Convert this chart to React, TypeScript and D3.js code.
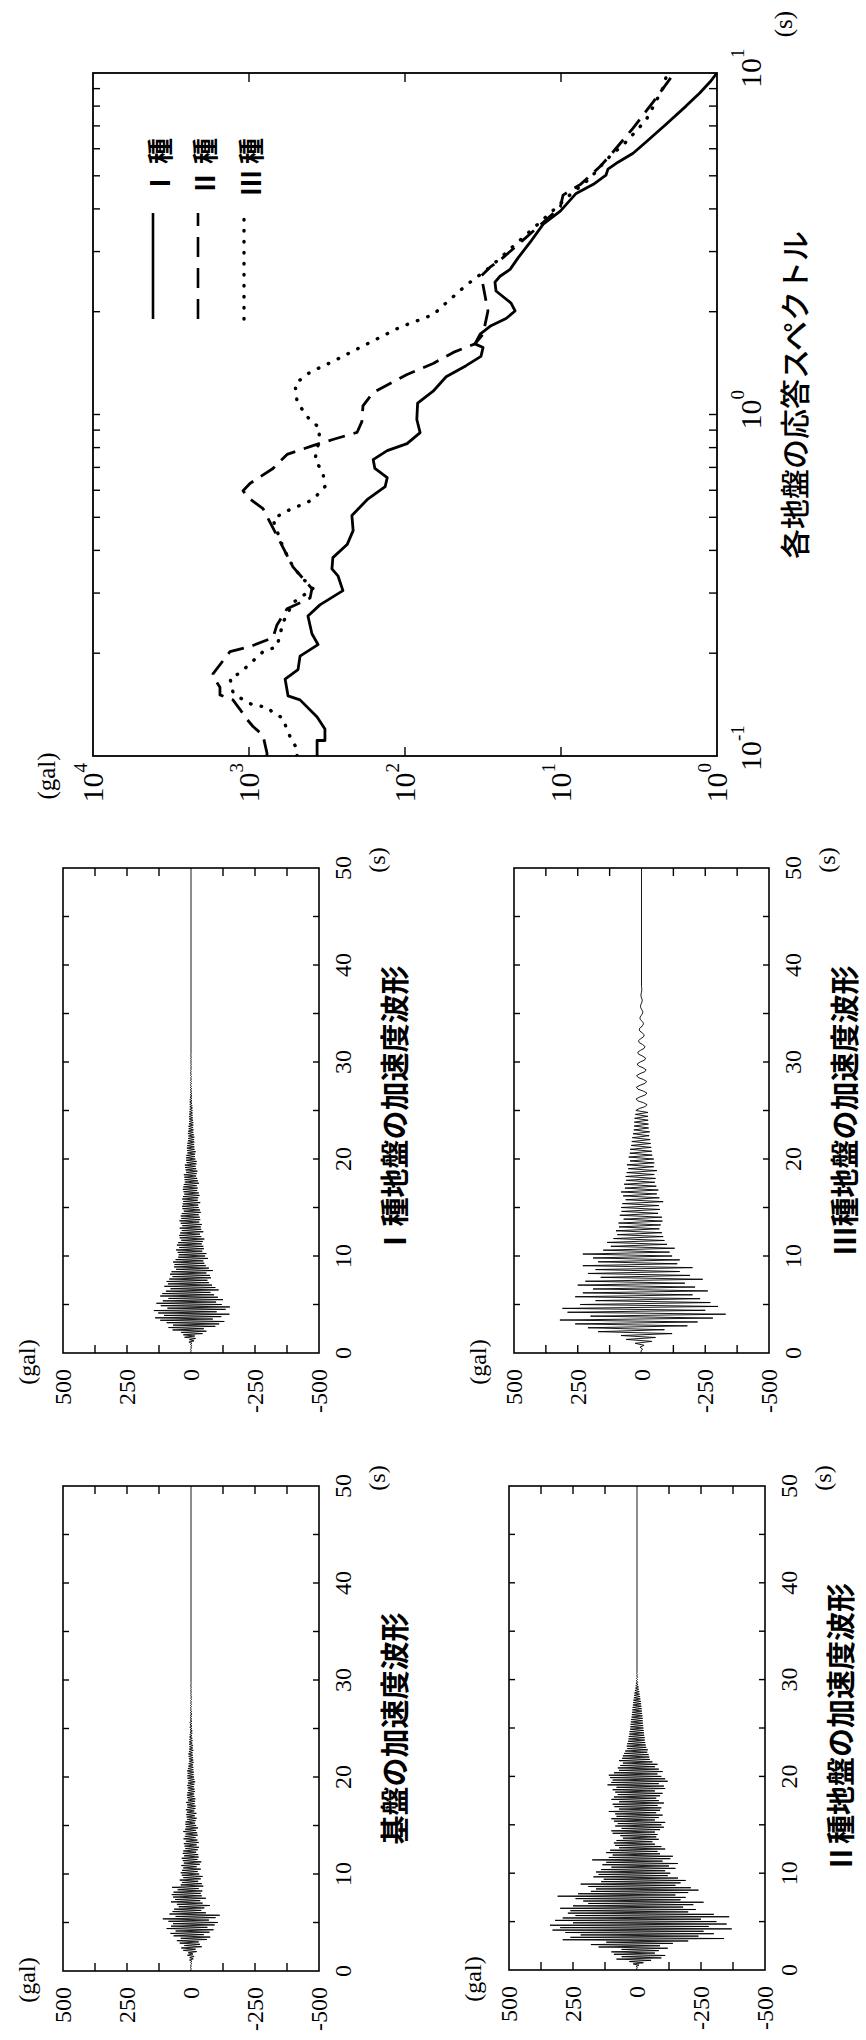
import React from 'react';
import * as d3 from 'd3';

// ---------- Response spectrum (period s, acceleration gal) ----------
const periodsI = [0.1, 0.111, 0.111, 0.120, 0.130, 0.146, 0.150, 0.168, 0.179, 0.196, 0.212, 0.228, 0.257, 0.277, 0.305, 0.337, 0.353, 0.381, 0.416, 0.457, 0.506, 0.563, 0.615, 0.653, 0.695, 0.738, 0.784, 0.822, 0.885, 0.967, 1.08, 1.17, 1.29, 1.39, 1.48, 1.57, 1.61, 1.72, 1.82, 1.91, 2.01, 2.12, 2.30, 2.44, 2.54, 2.66, 2.87, 3.19, 3.61, 3.94, 4.44, 4.72, 5.02, 5.23, 5.48, 5.82, 6.28, 7.08, 8.00, 8.74, 9.41, 10];
const accelI = [366, 366, 326, 326, 366, 471, 562, 587, 485, 471, 361, 395, 419, 351, 250, 269, 294, 290, 235, 215, 219, 175, 134, 130, 156, 160, 130, 97, 80, 84, 83, 66, 54.5, 40.6, 32.6, 31.6, 35.6, 33.0, 28.1, 22.5, 19.7, 20.9, 26.1, 26.5, 24.6, 21.2, 18.9, 15.8, 13.0, 10.1, 8.0, 6.2, 5.15, 5.0, 4.31, 3.45, 2.85, 2.12, 1.58, 1.29, 1.11, 1.0];

const periodsII = [0.1, 0.102, 0.108, 0.115, 0.122, 0.128, 0.137, 0.146, 0.151, 0.159, 0.171, 0.174, 0.190, 0.202, 0.209, 0.222, 0.242, 0.270, 0.290, 0.309, 0.358, 0.442, 0.530, 0.571, 0.598, 0.628, 0.695, 0.764, 0.811, 0.845, 0.886, 0.953, 1.06, 1.16, 1.31, 1.41, 1.52, 1.61, 1.72, 2.01, 2.39, 2.54, 2.70, 2.83, 3.24, 3.76, 4.05, 4.39, 4.72, 5.33, 5.90, 6.90, 8.22, 9.80];
const accelII = [767, 767, 789, 813, 942, 1030, 1143, 1268, 1535, 1535, 1702, 1702, 1469, 1324, 986, 702, 662, 570, 406, 395, 523, 662, 813, 1014, 1092, 986, 702, 570, 389, 290, 203, 189, 186, 160, 97, 66, 49, 35.6, 31.6, 29.4, 31.6, 32.6, 28.5, 24.6, 17.5, 12.1, 10.1, 9.7, 7.5, 5.6, 4.6, 3.45, 2.57, 1.94];

const periodsIII = [0.1, 0.105, 0.111, 0.119, 0.129, 0.134, 0.139, 0.141, 0.146, 0.154, 0.169, 0.175, 0.202, 0.209, 0.246, 0.281, 0.309, 0.337, 0.371, 0.416, 0.457, 0.492, 0.516, 0.537, 0.563, 0.615, 0.676, 0.738, 0.811, 0.910, 0.986, 1.09, 1.23, 1.33, 1.43, 1.61, 1.80, 1.96, 2.12, 2.39, 2.70, 3.05, 3.44, 3.88, 4.39, 4.92, 5.56, 6.28, 7.28, 9.04, 9.73];
const accelIII = [492, 492, 530, 570, 605, 702, 767, 942, 1092, 1268, 1324, 1143, 813, 662, 605, 523, 389, 471, 546, 614, 662, 702, 605, 492, 389, 326, 336, 378, 361, 351, 425, 492, 507, 406, 290, 175, 108, 66, 54.6, 40.6, 28.5, 21.2, 15.8, 11.8, 8.8, 6.5, 5.15, 3.83, 2.85, 2.22, 2.12];

const legendLabels = ['Ⅰ 種', 'Ⅱ 種', 'Ⅲ 種'];
const galTicks = [10000, 1000, 100, 10, 1];
const galExp = ['4', '3', '2', '1', '0'];
const periodTicks = [0.1, 1, 10];
const periodExp = ['-1', '0', '1'];

// ---------- Acceleration waveforms (gal), successive peaks ----------
const dtBase = 0.125;
const baseWave = [
  0, 1, -1, 2, -1, 2, -3, 2,
  -4, 6, -9, 5, -12, 14, -8, 11,
  -22, 30, -18, 38, -42, 26, -35, 44,
  -30, 55, -62, 40, -75, 68, -50, 80,
  -72, 60, -88, 95, -64, 78, -92, 70,
  -105, 88, -70, 110, -96, 60, -112, 84,
  -58, 72, -40, 66, -52, 48, -74, 55,
  -45, 78, -36, 62, -58, 70, -42, 75,
  -38, 68, -44, 52, -30, 74, -48, 40,
  -42, 35, -28, 44, -38, 30, -45, 36,
  -32, 40, -26, 35, -38, 30, -22, 38,
  -34, 28, -40, 32, -25, 36, -30, 27,
  -28, 32, -20, 30, -26, 22, -31, 25,
  -22, 28, -30, 20, -25, 29, -18, 24,
  -26, 21, -24, 30, -19, 23, -27, 20,
  -20, 22, -16, 21, -18, 15, -22, 17,
  -15, 19, -21, 16, -13, 20, -17, 14,
  -18, 15, -14, 19, -16, 12, -17, 15,
  -13, 16, -12, 14, -15, 11, -14, 13,
  -11, 15, -13, 12, -16, 10, -13, 14,
  -12, 14, -10, 13, -11, 15, -9, 12,
  -9, 10, -8, 9, -10, 7, -9, 8,
  -8, 9, -7, 10, -6, 8, -9, 7,
  -7, 6, -8, 7, -5, 7, -6, 6,
  -5, 6, -4, 5, -5, 4, -5, 4,
  -4, 5, -4, 4, -3, 5, -4, 3,
  -3, 4, -3, 3, -4, 3, -3, 3,
  -2, 3, -2, 2, -2, 2, -2, 2,
  -2, 1, -2, 1, -1, 1, -1, 1,
  -1, 1, -1, 1, 0, 0, 0, 0,
];

const dtType1 = 0.125;
const type1Wave = [
  0, 1, -1, 2, -2, 1, -3, 2,
  -4, 8, -12, 6, -18, 25, -15, 30,
  -45, 38, -60, 72, -50, 88, -95, 70,
  -110, 95, -130, 120, -85, 140, -118, 105,
  -150, 128, -100, 145, -135, 92, -152, 118,
  -120, 135, -98, 110, -125, 88, -105, 120,
  -90, 112, -76, 98, -108, 80, -95, 104,
  -82, 90, -70, 95, -64, 85, -78, 72,
  -74, 82, -60, 76, -85, 58, -70, 66,
  -58, 64, -52, 70, -48, 60, -66, 50,
  -55, 48, -60, 52, -44, 58, -50, 46,
  -48, 55, -42, 50, -46, 38, -52, 44,
  -40, 46, -35, 42, -48, 36, -40, 44,
  -38, 34, -42, 40, -32, 45, -36, 38,
  -34, 40, -30, 36, -38, 28, -35, 33,
  -30, 35, -28, 32, -36, 30, -26, 34,
  -28, 31, -33, 26, -30, 29, -24, 32,
  -26, 30, -22, 28, -31, 24, -27, 25,
  -24, 26, -20, 28, -22, 19, -25, 21,
  -20, 23, -18, 24, -21, 17, -22, 19,
  -17, 19, -15, 18, -16, 14, -18, 15,
  -14, 16, -13, 15, -12, 14, -13, 12,
  -12, 11, -13, 10, -11, 12, -9, 11,
  -10, 9, -8, 10, -9, 8, -9, 7,
  -8, 7, -7, 8, -6, 7, -6, 6,
  -6, 5, -6, 5, -5, 5, -4, 5,
  -4, 5, -4, 4, -4, 3, -4, 3,
  -3, 3, -3, 3, -2, 3, -2, 2,
  -2, 2, -2, 2, -2, 2, -1, 2,
  -1, 2, -1, 1, -1, 1, -1, 1,
  -1, 1, -1, 1, -1, 1, 0, 0,
];

const dtType2 = 0.125;
const type2Wave = [
  0, 2, -2, 4, -8, 15, -25, 30,
  -55, 80, -95, 60, -110, 90, -70, 100,
  -85, 60, -120, 150, -90, 180, -140, 120,
  -200, 290, -340, 260, -240, 220, -300, 280,
  -260, 330, -370, 300, -280, 340, -350, 250,
  -310, 320, -250, 290, -360, 240, -300, 270,
  -200, 260, -230, 300, -180, 250, -220, 190,
  -260, 210, -170, 240, -190, 310, -150, 230,
  -200, 180, -240, 160, -210, 190, -150, 220,
  -170, 140, -190, 130, -160, 170, -120, 150,
  -130, 160, -110, 140, -150, 100, -125, 135,
  -160, 120, -100, 175, -130, 110, -140, 95,
  -90, 120, -80, 105, -110, 70, -95, 85,
  -70, 90, -60, 80, -85, 55, -75, 65,
  -80, 95, -70, 100, -90, 60, -105, 85,
  -95, 75, -110, 90, -70, 100, -85, 80,
  -100, 85, -75, 110, -90, 70, -95, 88,
  -80, 95, -105, 70, -85, 100, -75, 90,
  -90, 75, -100, 85, -70, 95, -110, 80,
  -105, 115, -85, 100, -120, 95, -110, 105,
  -95, 110, -80, 90, -100, 70, -85, 75,
  -70, 65, -80, 55, -60, 70, -50, 58,
  -48, 55, -45, 50, -40, 46, -42, 38,
  -36, 40, -34, 38, -32, 35, -30, 33,
  -30, 32, -28, 30, -27, 29, -26, 27,
  -25, 26, -24, 25, -23, 24, -22, 23,
  -22, 21, -21, 20, -20, 19, -19, 18,
  -18, 17, -17, 16, -16, 15, -15, 14,
  -13, 12, -12, 11, -10, 10, -9, 8,
  -7, 6, -6, 5, -4, 4, -3, 3,
  -2, 2, -2, 1, -1, 1, 0, 0,
];

const dtType3 = 0.2;
const type3Wave = [
  0, 2, -4, 6, -10,
  25, -40, 60, -55, 80,
  -120, 170, -90, 210, -180,
  260, -220, 320, -280, 200,
  -330, 290, -250, 310, -300,
  240, -270, 180, -230, 260,
  -200, 230, -260, 190, -210,
  250, -170, 220, -240, 160,
  -190, 210, -150, 180, -200,
  230, -140, 170, -150, 190,
  -120, 230, -110, 150, -130,
  120, -100, 135, -90, 110,
  -85, 95, -80, 100, -70,
  88, -75, 90, -82, 70,
  -80, 85, -65, 78, -72,
  80, -68, 75, -85, 62,
  -70, 72, -60, 80, -66,
  65, -58, 68, -52, 60,
  -55, 62, -50, 58, -60,
  52, -48, 57, -50, 45,
  -48, 50, -42, 46, -40,
  44, -38, 40, -36, 38,
  -34, 36, -30, 33, -32,
  30, -28, 29, -27, 28,
  -26, 27, -25, 24, -25,
  22, 9, -14, -22, -8,
  15, 21, 6, -15, -21,
  -7, 14, 20, 6, -14,
  -20, -7, 13, 19, 6,
  -13, -18, -6, 12, 17,
  5, -12, -16, -5, 11,
  15, 4, -10, -14, -4,
  9, 12, 3, -8, -11,
  -3, 7, 9, 2, -6,
  -8, -2, 5, 6, 1,
  -4, -5, -1, 3, 4,
  1, -2, -3, 0, 2,
  2, 0, -1, -1, 0,
];

const ampLabels = [500, 250, 0, -250, -500];
const ampTicks = [375, 250, 125, -125, -250, -375];
const timeLabels = [0, 10, 20, 30, 40, 50];
const timeTicks = [5, 10, 15, 20, 25, 30, 35, 40, 45];

const SERIF = "'Liberation Serif', 'Times New Roman', serif";
const GOTHIC = "'Noto Sans CJK JP', 'Noto Sans', sans-serif";

type WaveProps = { u0: number; v0: number; u1: number; v1: number; title: string; data: number[]; dt: number };

function WavePanel({ u0, v0, u1, v1, title, data, dt }: WaveProps) {
  const x = d3.scaleLinear().domain([0, 50]).range([u0, u1]);
  const y = d3.scaleLinear().domain([500, -500]).range([v0, v1]);
  const pts: [number, number][] = data.map((d, i) => [i * dt, d]);
  pts.push([50, 0]);
  const line = d3.line<[number, number]>().x((d) => x(d[0])).y((d) => y(d[1]));
  const fs = 24;
  return (
    <g>
      <path d={line(pts) || ''} fill="none" stroke="#000" strokeWidth={0.9} />
      <rect x={u0} y={v0} width={u1 - u0} height={v1 - v0} fill="none" stroke="#000" strokeWidth={1.6} />
      {ampTicks.map((a) => (
        <g key={'a' + a}>
          <line x1={u0} x2={u0 + 8} y1={y(a)} y2={y(a)} stroke="#000" strokeWidth={1.4} />
          <line x1={u1} x2={u1 - 8} y1={y(a)} y2={y(a)} stroke="#000" strokeWidth={1.4} />
        </g>
      ))}
      {timeTicks.map((t) => (
        <g key={'t' + t}>
          <line x1={x(t)} x2={x(t)} y1={v0} y2={v0 + 6} stroke="#000" strokeWidth={1.4} />
          <line x1={x(t)} x2={x(t)} y1={v1} y2={v1 - 6} stroke="#000" strokeWidth={1.4} />
        </g>
      ))}
      {ampLabels.map((a) => (
        <text key={'al' + a} x={u0 - 16} y={y(a) + 8} textAnchor="end" fontFamily={SERIF} fontSize={fs}>
          {a}
        </text>
      ))}
      {timeLabels.map((t) => (
        <text key={'tl' + t} x={x(t)} y={v1 + 32} textAnchor="middle" fontFamily={SERIF} fontSize={fs}>
          {t}
        </text>
      ))}
      <text x={x(50) + 8} y={v1 + 66} textAnchor="middle" fontFamily={SERIF} fontSize={fs}>(s)</text>
      <text x={u0 - 9} y={v0 - 28} textAnchor="middle" fontFamily={SERIF} fontSize={fs}>(gal)</text>
      <text x={(u0 + u1) / 2} y={v1 + 87} textAnchor="middle" fontFamily={GOTHIC} fontWeight={700} fontSize={29}>
        {title}
      </text>
    </g>
  );
}

function Spectrum() {
  const u0 = 1284, u1 = 1967, v0 = 93, v1 = 717;
  const xs = d3.scaleLog().domain([0.1, 10]).range([u0, u1]);
  const ys = d3.scaleLog().domain([1, 10000]).range([v1, v0]);
  const mk = (ps: number[], as: number[]) => ps.map((p, i) => [p, as[i]] as [number, number]);
  const line = d3.line<[number, number]>().x((d) => xs(d[0])).y((d) => ys(d[1]));
  const series = [
    { d: mk(periodsI, accelI), dash: undefined as string | undefined, cap: 'butt' },
    { d: mk(periodsII, accelII), dash: '17 9', cap: 'butt' },
    { d: mk(periodsIII, accelIII), dash: '0.5 10.5', cap: 'round' },
  ];
  const minor: number[] = [];
  for (let dec = 0.1; dec < 10; dec *= 10) {
    for (let k = 2; k <= 10; k++) minor.push(+(k * dec).toFixed(3));
  }
  const legendV = [153, 198, 244];
  return (
    <g>
      <defs>
        <clipPath id="specClip">
          <rect x={u0} y={v0} width={u1 - u0} height={v1 - v0} />
        </clipPath>
      </defs>
      <g clipPath="url(#specClip)">
        {series.map((s, i) => (
          <path key={i} d={line(s.d) || ''} fill="none" stroke="#000" strokeWidth={i === 2 ? 3.4 : 2.8}
            strokeDasharray={s.dash} strokeLinecap={s.cap as any} strokeLinejoin="round" />
        ))}
      </g>
      <rect x={u0} y={v0} width={u1 - u0} height={v1 - v0} fill="none" stroke="#000" strokeWidth={1.8} />
      {minor.filter((m) => m < 10).map((m) => (
        <g key={'m' + m}>
          <line x1={xs(m)} x2={xs(m)} y1={v0} y2={v0 + 7} stroke="#000" strokeWidth={1.4} />
          <line x1={xs(m)} x2={xs(m)} y1={v1} y2={v1 - 8} stroke="#000" strokeWidth={1.4} />
        </g>
      ))}
      {[1000, 100, 10].map((g) => (
        <g key={'g' + g}>
          <line x1={u0} x2={u0 + 9} y1={ys(g)} y2={ys(g)} stroke="#000" strokeWidth={1.4} />
          <line x1={u1} x2={u1 - 9} y1={ys(g)} y2={ys(g)} stroke="#000" strokeWidth={1.4} />
        </g>
      ))}
      {galTicks.map((g, i) => (
        <text key={'gl' + g} x={u0 - 7} y={ys(g) + 10} textAnchor="end" fontFamily={SERIF} fontSize={30}>
          10<tspan dy={-16} fontSize={19}>{galExp[i]}</tspan>
        </text>
      ))}
      {periodTicks.map((p, i) => (
        <text key={'pl' + p} x={xs(p) - 15} y={761} textAnchor="start" fontFamily={SERIF} fontSize={30}>
          10<tspan dy={-17} fontSize={19}>{periodExp[i]}</tspan>
        </text>
      ))}
      <text x={2016} y={792} textAnchor="middle" fontFamily={SERIF} fontSize={25}>(s)</text>
      <text x={1264} y={55} textAnchor="middle" fontFamily={SERIF} fontSize={25}>(gal)</text>
      <text x={1645} y={806} textAnchor="middle" fontFamily={GOTHIC} fontWeight={500} fontSize={30}>
        各地盤の応答スペクトル
      </text>
      {series.map((s, i) => (
        <g key={'lg' + i}>
          <line x1={1721} x2={1827} y1={legendV[i]} y2={legendV[i]} stroke="#000" strokeWidth={i === 2 ? 3.4 : 2.6}
            strokeDasharray={i === 1 ? '20 11' : s.dash} strokeLinecap={s.cap as any} />
          <text x={1844} y={legendV[i] + 17} fontFamily={GOTHIC} fontWeight={700} fontSize={26}>
            {legendLabels[i]}
          </text>
        </g>
      ))}
    </g>
  );
}

export default function App() {
  const W = 866, H = 2040;
  return (
    <svg width={W} height={H} style={{ position: 'absolute', left: 0, top: 0, background: '#fff' }}>
      <rect x={0} y={0} width={W} height={H} fill="#fff" />
      <g transform={`translate(0,${H}) rotate(-90)`}>
        <WavePanel u0={69} u1={554} v0={63} v1={319} title="基盤の加速度波形" data={baseWave} dt={dtBase} />
        <WavePanel u0={687} u1={1172} v0={63} v1={319} title="Ⅰ種地盤の加速度波形" data={type1Wave} dt={dtType1} />
        <WavePanel u0={70} u1={554} v0={509} v1={765} title="Ⅱ種地盤の加速度波形" data={type2Wave} dt={dtType2} />
        <WavePanel u0={687} u1={1172} v0={514} v1={769} title="Ⅲ種地盤の加速度波形" data={type3Wave} dt={dtType3} />
        <Spectrum />
      </g>
    </svg>
  );
}
